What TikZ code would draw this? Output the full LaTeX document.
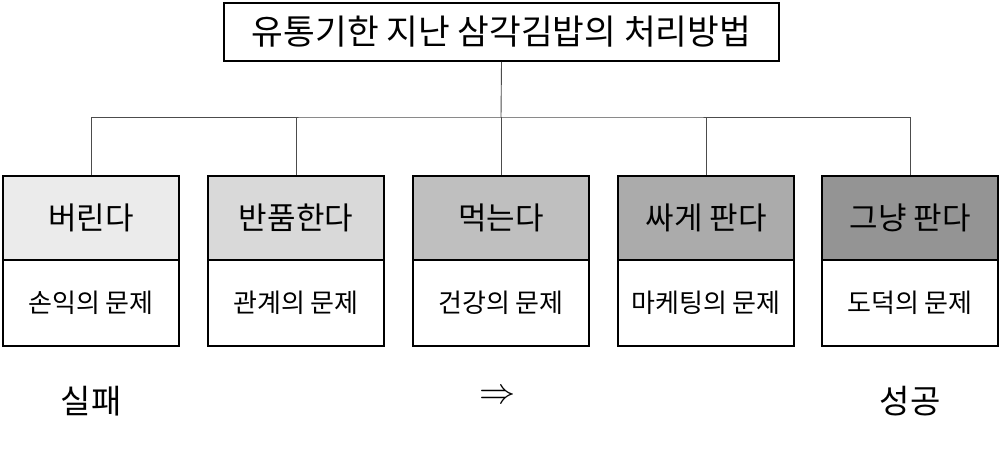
\documentclass[tikz,border=0pt]{standalone}
\usepackage{fontspec}
\setmainfont{Noto Sans CJK KR}
\begin{document}
\begin{tikzpicture}[x=1pt,y=-1pt,
  titlebox/.style={draw=black, line width=1.6pt, minimum width=555pt, minimum height=58pt, inner sep=0pt, font=\fontsize{34.5}{34.5}\selectfont},
  headbox/.style={draw=black, line width=1.6pt, minimum width=176pt, minimum height=84pt, inner sep=0pt, font=\fontsize{31}{31}\selectfont},
  subbox/.style={draw=black, line width=1.6pt, fill=white, minimum width=176pt, minimum height=86pt, inner sep=0pt, font=\fontsize{26}{26}\selectfont},
  conn/.style={draw=black!70, line width=0.9pt},
  endlabel/.style={font=\fontsize{33}{33}\selectfont, inner sep=0pt}
]
\useasboundingbox (0,0) rectangle (1000,459);
\fill[white] (0,0) rectangle (1000,459);

\node[titlebox] (title) at (501.5,32) {유통기한 지난 삼각김밥의 처리방법};

\coordinate (bus) at (501,117);

\node[headbox, fill=black!8]  (h1) at (91,218)  {버린다};
\node[headbox, fill=black!15] (h2) at (296,218) {반품한다};
\node[headbox, fill=black!25] (h3) at (501,218) {먹는다};
\node[headbox, fill=black!33] (h4) at (706,218) {싸게 판다};
\node[headbox, fill=black!42] (h5) at (910,218) {그냥 판다};

\node[subbox] (s1) at (91,303)  {손익의 문제};
\node[subbox] (s2) at (296,303) {관계의 문제};
\node[subbox] (s3) at (501,303) {건강의 문제};
\node[subbox] (s4) at (706,303) {마케팅의 문제};
\node[subbox] (s5) at (910,303) {도덕의 문제};

\draw[conn] (title.south) -- (bus);
\draw[conn] (h1.north) |- (bus) -| (h5.north);
\foreach \n in {h2,h3,h4} \draw[conn] (\n.north) -- (\n.north |- bus);

\node[endlabel] (fail) at (91,401) {실패};
\node[endlabel] (arrow) at (498,397) {\scalebox{1.45}{$\Rightarrow$}};
\node[endlabel] (success) at (910,401) {성공};
\end{tikzpicture}
\end{document}
